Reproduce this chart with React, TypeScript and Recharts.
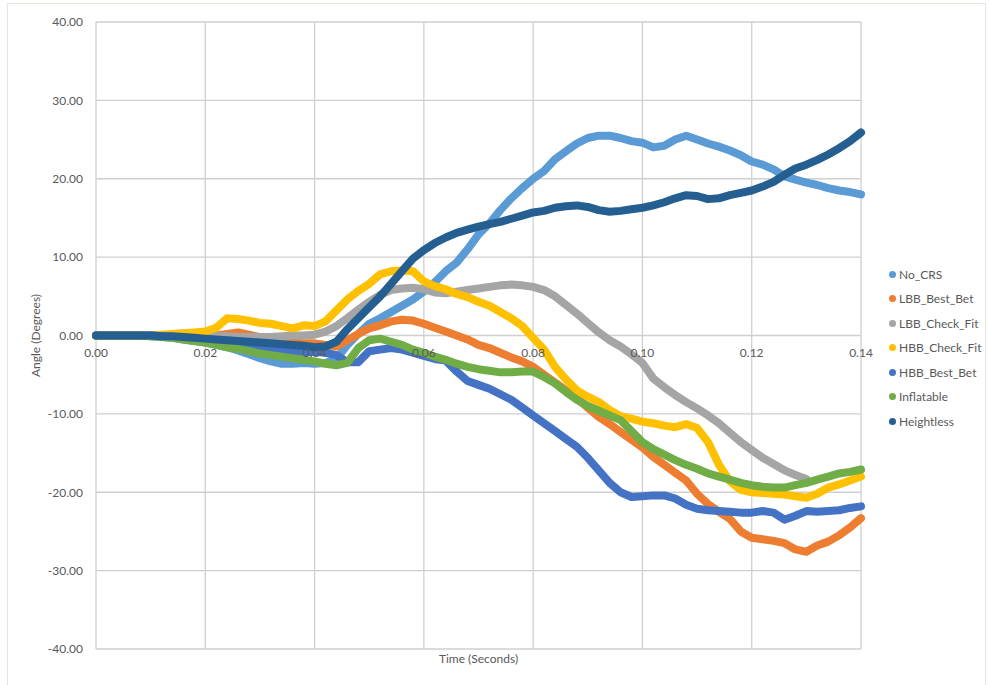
import React from 'react';
import {
  LineChart,
  Line,
  XAxis,
  YAxis,
  CartesianGrid,
} from 'recharts';

// Sample times (seconds)
const TIME = [
  0.0, 0.002, 0.004, 0.006, 0.008, 0.01, 0.012, 0.014, 0.016, 0.018,
  0.02, 0.022, 0.024, 0.026, 0.028, 0.03, 0.032, 0.034, 0.036, 0.038,
  0.04, 0.042, 0.044, 0.046, 0.048, 0.05, 0.052, 0.054, 0.056, 0.058,
  0.06, 0.062, 0.064, 0.066, 0.068, 0.07, 0.072, 0.074, 0.076, 0.078,
  0.08, 0.082, 0.084, 0.086, 0.088, 0.09, 0.092, 0.094, 0.096, 0.098,
  0.1, 0.102, 0.104, 0.106, 0.108, 0.11, 0.112, 0.114, 0.116, 0.118,
  0.12, 0.122, 0.124, 0.126, 0.128, 0.13, 0.132, 0.134, 0.136, 0.138,
  0.14,
];

// Angle (degrees) per configuration
const NO_CRS = [
  0, 0, 0, 0, 0, -0.1, -0.2, -0.3, -0.5, -0.7,
  -0.9, -1.2, -1.5, -1.9, -2.4, -2.9, -3.3, -3.6, -3.6, -3.5,
  -3.6, -3.5, -3.0, -1.2, 0.2, 1.5, 2.2, 3.0, 3.8, 4.6,
  5.6, 6.8, 8.2, 9.3, 11.0, 12.9, 14.3, 16.0, 17.5, 18.8,
  20.0, 21.0, 22.5, 23.5, 24.5, 25.2, 25.5, 25.5, 25.2, 24.8,
  24.6, 24.0, 24.2, 25.0, 25.5, 25.0, 24.5, 24.1, 23.6, 23.0,
  22.2, 21.8, 21.2, 20.3, 19.9, 19.5, 19.2, 18.8, 18.5, 18.3,
  18.0,
];

const LBB_BEST_BET = [
  0, 0, 0, 0, 0, 0, 0, 0, 0, 0,
  0, 0, 0.2, 0.4, 0.1, -0.2, -0.4, -0.6, -0.8, -1.0,
  -1.0, -1.2, -1.4, -0.6, 0.2, 0.9, 1.3, 1.8, 2.0, 1.9,
  1.5, 1.0, 0.5, 0, -0.5, -1.2, -1.6, -2.2, -2.8, -3.3,
  -4.0, -5.0, -6.0, -7.0, -8.0, -9.2, -10.4, -11.3, -12.3, -13.3,
  -14.3, -15.5, -16.5, -17.5, -18.5, -20.2, -21.5, -22.5, -23.4, -25.0,
  -25.8, -26.0, -26.2, -26.5, -27.3, -27.6, -26.8, -26.3, -25.5, -24.5,
  -23.3,
];

const LBB_CHECK_FIT = [
  0, 0, 0, 0, 0, 0, 0, 0, 0, 0,
  0, -0.1, -0.1, -0.2, -0.2, -0.2, -0.2, -0.1, 0, 0,
  0.1, 0.5, 1.2, 2.2, 3.3, 4.3, 5.2, 5.8, 6.0, 6.1,
  5.9, 5.5, 5.4, 5.6, 5.8, 6.0, 6.2, 6.4, 6.5, 6.4,
  6.2, 5.8, 5.0, 3.9, 2.8, 1.6, 0.4, -0.6, -1.4, -2.4,
  -3.5, -5.5, -6.6, -7.6, -8.5, -9.3, -10.2, -11.2, -12.4, -13.6,
  -14.6, -15.6, -16.4, -17.2, -17.8, -18.3, null, null, null, null,
  null,
];

const HBB_CHECK_FIT = [
  0, 0, 0, 0, 0, 0, 0.1, 0.2, 0.3, 0.4,
  0.5, 1.0, 2.2, 2.1, 1.9, 1.6, 1.5, 1.2, 0.9, 1.3,
  1.2, 1.8, 3.2, 4.6, 5.7, 6.6, 7.8, 8.2, 8.3, 8.2,
  6.9, 6.3, 5.9, 5.3, 4.9, 4.3, 3.8, 3.0, 2.2, 1.2,
  -0.3, -1.8, -4.0, -5.6, -7.0, -7.8, -8.5, -9.5, -10.3, -10.6,
  -11.0, -11.2, -11.5, -11.7, -11.3, -11.8, -13.6, -16.5, -18.6, -19.7,
  -20.0, -20.1, -20.2, -20.3, -20.5, -20.7, -20.2, -19.4, -19.0, -18.5,
  -18.0,
];

const HBB_BEST_BET = [
  0, 0, 0, 0, 0, 0, -0.1, -0.2, -0.3, -0.4,
  -0.6, -0.8, -1.0, -1.2, -1.4, -1.5, -1.7, -1.9, -2.0, -2.1,
  -2.1, -2.2, -2.5, -3.4, -3.4, -2.0, -1.8, -1.6, -1.8, -2.2,
  -2.6, -3.0, -3.2, -4.6, -5.8, -6.3, -6.8, -7.5, -8.2, -9.2,
  -10.2, -11.2, -12.2, -13.2, -14.2, -15.6, -17.2, -18.8, -20.0, -20.6,
  -20.5, -20.4, -20.4, -20.8, -21.6, -22.1, -22.3, -22.4, -22.5, -22.6,
  -22.6, -22.4, -22.6, -23.5, -23.0, -22.4, -22.5, -22.4, -22.3, -22.0,
  -21.8,
];

const INFLATABLE = [
  0, 0, 0, 0, 0, -0.1, -0.2, -0.3, -0.5, -0.7,
  -0.9, -1.2, -1.5, -1.7, -2.0, -2.3, -2.5, -2.7, -2.9, -3.1,
  -3.3, -3.6, -3.8, -3.5, -1.6, -0.6, -0.4, -0.8, -1.2, -1.8,
  -2.2, -2.7, -3.1, -3.6, -4.0, -4.3, -4.5, -4.7, -4.7, -4.6,
  -4.6, -5.3, -6.1, -7.2, -8.2, -9.0, -9.6, -10.2, -10.8, -12.2,
  -13.6, -14.5, -15.2, -15.9, -16.5, -17.0, -17.6, -18.0, -18.4, -18.8,
  -19.1, -19.3, -19.4, -19.4, -19.1, -18.8, -18.4, -18.0, -17.6, -17.4,
  -17.1,
];

const HEIGHTLESS = [
  0, 0, 0, 0, 0, 0, -0.1, -0.1, -0.2, -0.3,
  -0.4, -0.5, -0.6, -0.7, -0.8, -0.9, -1.0, -1.1, -1.2, -1.3,
  -1.5, -1.4, -0.8, 0.8, 2.2, 3.6, 5.0, 6.6, 8.2, 9.8,
  10.9, 11.8, 12.5, 13.1, 13.5, 13.9, 14.2, 14.5, 14.9, 15.3,
  15.7, 15.9, 16.3, 16.5, 16.6, 16.4, 16.0, 15.8, 15.9, 16.1,
  16.3, 16.6, 17.0, 17.5, 17.9, 17.8, 17.4, 17.5, 17.9, 18.2,
  18.5, 19.0, 19.6, 20.5, 21.3, 21.8, 22.4, 23.1, 23.9, 24.8,
  25.9,
];

const X_TICKS = [0, 0.02, 0.04, 0.06, 0.08, 0.1, 0.12, 0.14];
const Y_TICKS = [-40, -30, -20, -10, 0, 10, 20, 30, 40];

const SERIES = [
  { key: 'No_CRS', values: NO_CRS, color: '#5B9BD5' },
  { key: 'LBB_Best_Bet', values: LBB_BEST_BET, color: '#ED7D31' },
  { key: 'LBB_Check_Fit', values: LBB_CHECK_FIT, color: '#A5A5A5' },
  { key: 'HBB_Check_Fit', values: HBB_CHECK_FIT, color: '#FFC000' },
  { key: 'HBB_Best_Bet', values: HBB_BEST_BET, color: '#4472C4' },
  { key: 'Inflatable', values: INFLATABLE, color: '#70AD47' },
  { key: 'Heightless', values: HEIGHTLESS, color: '#255E91' },
];

const data = TIME.map((t, i) => {
  const row: Record<string, number | null> = { t };
  SERIES.forEach((s) => {
    row[s.key] = s.values[i];
  });
  return row;
});

const W = 989;
const H = 685;
const MARGIN = { top: 22, right: 128, bottom: 6, left: 0 };
const X_AXIS_H = 30;
const Y_AXIS_W = 96;
const PLOT_H = H - MARGIN.top - MARGIN.bottom - X_AXIS_H;
const Y_MIN = -40;
const Y_MAX = 40;
const ZERO_Y = MARGIN.top + (PLOT_H * Y_MAX) / (Y_MAX - Y_MIN);

const FONT = 'Lato, "Noto Sans", sans-serif';
const TEXT_COLOR = '#595959';

// X tick labels sit just below the zero line, where the value axis crosses.
const XTick = (props: any) => {
  const { x, payload } = props;
  return (
    <text
      x={x}
      y={ZERO_Y + 21}
      textAnchor="middle"
      fontSize={12}
      fontFamily={FONT}
      fill={TEXT_COLOR}
    >
      {Number(payload.value).toFixed(2)}
    </text>
  );
};

const LegendList = () => (
  <div
    style={{
      position: 'absolute',
      left: 889,
      top: 262,
      width: 100,
      fontFamily: FONT,
      fontSize: 12,
      color: TEXT_COLOR,
    }}
  >
    {SERIES.map((s) => (
      <div
        key={s.key}
        style={{ display: 'flex', alignItems: 'center', height: 24.5 }}
      >
        <span
          style={{
            display: 'inline-block',
            width: 7,
            height: 7,
            borderRadius: '50%',
            background: s.color,
            marginRight: 3,
          }}
        />
        <span>{s.key}</span>
      </div>
    ))}
  </div>
);

export default function App() {
  return (
    <div
      style={{
        position: 'absolute',
        left: 0,
        top: 0,
        width: W,
        height: H,
        overflow: 'hidden',
        background: '#ffffff',
      }}
    >
      <div
        style={{
          position: 'absolute',
          left: 7,
          top: 3,
          width: 977,
          height: 720,
          border: '1px solid #e6e6da',
        }}
      />
      <LineChart
        width={W}
        height={H}
        data={data}
        margin={MARGIN}
        style={{ position: 'absolute', left: 0, top: 0 }}
      >
        <CartesianGrid
          stroke="#cfcfcf"
          strokeWidth={1.3}
          horizontalValues={Y_TICKS}
          verticalValues={X_TICKS}
        />
        <XAxis
          dataKey="t"
          type="number"
          domain={[0, 0.14]}
          ticks={X_TICKS}
          height={X_AXIS_H}
          axisLine={false}
          tickLine={false}
          tick={<XTick />}
          interval={0}
          label={{
            value: 'Time (Seconds)',
            position: 'insideTop',
            offset: 5,
            fontSize: 12,
            fontFamily: FONT,
            fill: TEXT_COLOR,
          }}
        />
        <YAxis
          type="number"
          domain={[Y_MIN, Y_MAX]}
          ticks={Y_TICKS}
          width={Y_AXIS_W}
          axisLine={false}
          tickLine={false}
          tickSize={0}
          tickMargin={13}
          interval={0}
          tickFormatter={(v: number) => v.toFixed(2)}
          tick={{ fontSize: 12, fontFamily: FONT, fill: TEXT_COLOR }}
          label={{
            value: 'Angle (Degrees)',
            content: (p: any) => {
              const vb = p.viewBox || { x: 0, y: 0, width: 0, height: 0 };
              const cx = vb.x + 37;
              const cy = vb.y + vb.height / 2;
              return (
                <text
                  x={cx}
                  y={cy}
                  transform={`rotate(-90 ${cx} ${cy})`}
                  textAnchor="middle"
                  dominantBaseline="middle"
                  fontSize={12}
                  fontFamily={FONT}
                  fill={TEXT_COLOR}
                >
                  Angle (Degrees)
                </text>
              );
            },
          }}
        />
        {SERIES.map((s) => (
          <Line
            key={s.key}
            dataKey={s.key}
            type="linear"
            stroke={s.color}
            strokeWidth={8}
            strokeLinecap="round"
            strokeLinejoin="round"
            dot={false}
            activeDot={false}
            isAnimationActive={false}
            connectNulls={false}
          />
        ))}
      </LineChart>
      <LegendList />
    </div>
  );
}
